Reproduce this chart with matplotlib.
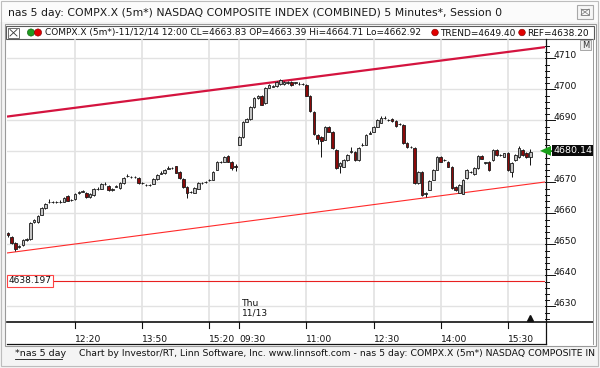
import matplotlib
matplotlib.use("Agg")
import matplotlib.pyplot as plt
from matplotlib.patches import Rectangle, Circle, Polygon
import matplotlib.transforms as mtransforms

plt.rcParams['font.family'] = ['DejaVu Sans']

# ---------------- data (5-minute bars, day 1 starts 10:50, day 2 starts 09:30) ----------------
day1_open = [4653.6, 4652.4, 4650.5, 4649.1, 4649.8, 4651.4, 4651.7, 4657.1, 4657.1, 4659.5,
             4661.7, 4663.5, 4663.6, 4663.7, 4663.6, 4663.7, 4665.6, 4664.2, 4664.6, 4666.5,
             4667.0, 4666.6, 4665.1, 4665.9, 4667.8, 4667.9, 4669.4, 4668.8, 4667.5, 4668.6,
             4668.1, 4669.8, 4671.9, 4671.7, 4671.6, 4671.4, 4669.8, 4669.1, 4669.1, 4669.5,
             4671.1, 4672.8, 4673.0, 4674.4, 4674.5, 4675.1, 4673.4, 4671.1, 4668.5, 4666.8,
             4666.6, 4667.9, 4669.7, 4670.0, 4670.7, 4670.8, 4674.1, 4676.5, 4676.6, 4678.5,
             4676.6, 4675.1]
day1_high = [4654.0, 4652.6, 4650.7, 4649.8, 4651.7, 4652.0, 4657.1, 4658.2, 4659.4, 4662.0,
             4663.4, 4664.6, 4664.0, 4664.0, 4664.2, 4665.3, 4665.9, 4664.7, 4666.4, 4667.3,
             4667.5, 4666.9, 4666.4, 4668.2, 4668.4, 4669.8, 4670.0, 4669.0, 4668.2, 4669.2,
             4670.1, 4671.7, 4672.8, 4672.0, 4672.0, 4671.6, 4670.1, 4669.4, 4669.5, 4671.4,
             4672.7, 4673.6, 4674.3, 4675.2, 4674.9, 4675.4, 4673.6, 4671.3, 4668.7, 4667.3,
             4668.4, 4670.1, 4670.2, 4670.5, 4671.2, 4673.7, 4676.9, 4677.0, 4678.4, 4678.9,
             4676.8, 4675.8]
day1_low = [4652.5, 4650.2, 4647.8, 4648.8, 4649.5, 4651.2, 4651.5, 4656.9, 4656.8, 4659.3,
            4661.5, 4663.3, 4663.4, 4663.3, 4663.4, 4663.5, 4663.9, 4663.9, 4664.4, 4666.3,
            4666.8, 4665.0, 4664.8, 4665.7, 4667.6, 4667.7, 4669.2, 4667.3, 4667.3, 4668.4,
            4667.9, 4669.6, 4671.7, 4671.3, 4671.3, 4669.6, 4669.5, 4668.8, 4668.9, 4669.3,
            4670.9, 4672.6, 4672.8, 4674.2, 4674.2, 4672.9, 4671.2, 4668.3, 4665.0, 4666.5,
            4666.4, 4667.7, 4669.5, 4669.8, 4670.5, 4670.6, 4673.9, 4676.3, 4676.4, 4676.4,
            4673.9, 4673.6]
day1_close = [4652.9, 4650.5, 4648.6, 4649.5, 4651.4, 4651.7, 4656.9, 4657.9, 4659.1, 4661.7,
              4663.1, 4663.7, 4663.7, 4663.6, 4663.7, 4665.0, 4664.1, 4664.3, 4666.1, 4666.9,
              4667.1, 4665.3, 4666.1, 4667.9, 4667.9, 4669.5, 4669.5, 4667.5, 4667.9, 4668.8,
              4669.8, 4671.4, 4672.1, 4671.6, 4671.6, 4669.8, 4669.8, 4669.1, 4669.2, 4671.1,
              4672.4, 4673.0, 4674.0, 4674.6, 4674.5, 4673.1, 4671.4, 4668.5, 4666.6, 4666.9,
              4668.1, 4669.8, 4669.8, 4670.1, 4670.8, 4673.4, 4676.6, 4676.6, 4678.1, 4676.6,
              4674.6, 4674.8]

day2_open = [4682.1, 4684.6, 4689.5, 4690.4, 4694.3, 4697.2, 4697.9, 4695.6, 4700.5, 4700.8,
             4701.1, 4701.7, 4701.6, 4702.0, 4702.4, 4702.1, 4701.7, 4701.6, 4701.4, 4697.9,
             4692.7, 4685.3, 4684.6, 4683.7, 4687.9, 4686.3, 4680.5, 4675.1, 4675.0, 4677.2,
             4679.8, 4679.8, 4677.2, 4681.9, 4682.1, 4685.7, 4686.3, 4687.9, 4689.2, 4690.6,
             4690.2, 4690.5, 4689.8, 4688.8, 4688.5, 4682.7, 4681.3, 4681.1, 4669.8, 4673.4,
             4666.1, 4667.6, 4670.8, 4674.1, 4678.2, 4677.1, 4676.6, 4675.0, 4668.5, 4666.6,
             4666.3, 4671.4, 4673.2, 4672.7, 4674.6, 4678.5, 4676.3, 4676.6, 4677.2, 4680.5,
             4678.8, 4678.3, 4679.5, 4673.4, 4677.2, 4678.2, 4680.5, 4679.5, 4678.2]
day2_high = [4684.9, 4689.8, 4690.9, 4694.6, 4697.5, 4698.3, 4698.1, 4700.8, 4701.7, 4701.3,
             4702.8, 4703.4, 4702.8, 4702.8, 4702.7, 4702.5, 4702.2, 4702.0, 4701.6, 4698.1,
             4692.9, 4685.5, 4684.9, 4688.2, 4688.1, 4686.5, 4680.7, 4676.4, 4677.5, 4679.1,
             4681.3, 4680.0, 4681.4, 4682.7, 4685.6, 4686.5, 4688.2, 4690.4, 4691.3, 4691.5,
             4690.5, 4690.7, 4690.0, 4689.1, 4688.7, 4682.9, 4681.7, 4681.3, 4673.7, 4673.6,
             4667.0, 4670.8, 4674.4, 4678.5, 4678.4, 4677.5, 4676.8, 4675.2, 4668.7, 4669.4,
             4671.1, 4674.3, 4673.8, 4674.9, 4678.8, 4678.7, 4676.7, 4676.8, 4680.8, 4680.7,
             4679.2, 4679.6, 4679.7, 4676.6, 4679.1, 4681.6, 4680.7, 4679.7, 4680.9]
day2_low = [4681.9, 4684.4, 4689.3, 4690.2, 4694.1, 4697.0, 4694.8, 4695.4, 4700.3, 4700.6,
            4700.9, 4701.5, 4701.4, 4701.8, 4701.2, 4701.8, 4701.5, 4701.3, 4697.7, 4692.8,
            4685.4, 4682.5, 4678.1, 4683.5, 4686.1, 4680.9, 4674.4, 4673.1, 4674.8, 4677.0,
            4679.6, 4677.0, 4677.0, 4681.7, 4681.9, 4685.5, 4686.1, 4687.7, 4689.0, 4690.4,
            4689.8, 4689.6, 4688.0, 4688.4, 4682.5, 4681.2, 4681.0, 4669.6, 4669.6, 4665.7,
            4665.1, 4667.4, 4670.6, 4673.9, 4676.4, 4676.8, 4674.8, 4668.0, 4667.2, 4666.4,
            4666.1, 4671.2, 4673.0, 4672.5, 4674.4, 4677.4, 4676.0, 4673.8, 4677.0, 4678.6,
            4678.5, 4678.1, 4673.8, 4671.7, 4677.0, 4678.0, 4678.6, 4678.0, 4675.6]
day2_close = [4684.6, 4689.5, 4690.5, 4694.3, 4697.2, 4697.9, 4695.0, 4700.5, 4701.4, 4700.9,
              4702.4, 4703.0, 4702.4, 4702.4, 4701.4, 4702.1, 4701.8, 4701.6, 4697.9, 4693.0,
              4685.6, 4684.1, 4683.4, 4687.9, 4686.3, 4681.1, 4674.6, 4676.1, 4677.2, 4678.8,
              4680.1, 4677.2, 4681.1, 4682.1, 4685.3, 4685.9, 4687.9, 4690.1, 4690.8, 4690.8,
              4690.1, 4689.8, 4688.2, 4688.8, 4682.7, 4681.4, 4681.3, 4669.8, 4673.4, 4665.9,
              4666.6, 4670.5, 4674.1, 4678.2, 4676.6, 4677.1, 4675.0, 4668.2, 4667.6, 4669.1,
              4670.8, 4674.0, 4673.4, 4674.6, 4678.5, 4677.6, 4676.3, 4674.0, 4680.5, 4678.8,
              4678.8, 4679.3, 4674.0, 4676.3, 4678.8, 4681.1, 4678.8, 4678.2, 4679.8]

time_tick_labels = ['12:20', '13:50', '15:20', '09:30', '11:00', '12:30', '14:00', '15:30']
time_tick_day = [1, 1, 1, 2, 2, 2, 2, 2]
day1_start_min = 10 * 60 + 50
day2_start_min = 9 * 60 + 30
bar_minutes = 5

upper_trend = [4691.2, 4713.6]   # values at left / right edge of the plot
lower_trend = [4647.2, 4670.1]
ref_value = 4638.197
last_price = 4680.14
y_ticks = [4630, 4640, 4650, 4660, 4670, 4680, 4690, 4700, 4710]

header_text = "COMPX.X (5m*)-11/12/14 12:00 CL=4663.83 OP=4663.39 Hi=4664.71 Lo=4662.92"
trend_text = "TREND=4649.40"
ref_text = "REF=4638.20"
title_text = "nas 5 day: COMPX.X (5m*) NASDAQ COMPOSITE INDEX (COMBINED) 5 Minutes*, Session 0"
footer_link = "*nas 5 day"
footer_text = ("Chart by Investor/RT, Linn Software, Inc. www.linnsoft.com - nas 5 day: "
               "COMPX.X (5m*) NASDAQ COMPOSITE IN")

# ---------------- assemble ----------------
opens = day1_open + day2_open
highs = day1_high + day2_high
lows = day1_low + day2_low
closes = day1_close + day2_close
n1 = len(day1_open)
xs = list(range(len(opens)))

W, H = 600, 368
fig = plt.figure(figsize=(W / 100, H / 100), dpi=100)
fig.patch.set_facecolor('white')


def fx(px):
    return px / W


def fy(py):
    return 1 - py / H


# background canvas for chrome
bg = fig.add_axes([0, 0, 1, 1])
bg.set_xlim(0, W)
bg.set_ylim(H, 0)
bg.axis('off')
bg.add_patch(Rectangle((0, 0), W, H, facecolor='#f4f4f4', edgecolor='none'))
bg.add_patch(Rectangle((0, 0), W, 22, facecolor='#fbfbfb', edgecolor='none'))
bg.add_patch(Rectangle((5, 24), 591, 322, facecolor='white', edgecolor='#9a9a9a', lw=0.8))
bg.add_patch(Rectangle((1, 1), 597, 365, facecolor='none', edgecolor='#bdbdbd', lw=0.8))
bg.text(8, 13, title_text, fontsize=7.8, va='center', ha='left', color='#1a1a1a')
# close button
bg.add_patch(Rectangle((577, 5), 16, 14, facecolor='#f6f6f6', edgecolor='#a8a8a8', lw=0.8))
bg.add_patch(Rectangle((581, 9), 8, 6, facecolor='none', edgecolor='#777777', lw=0.6))
bg.plot([581, 589], [9, 15], color='#777777', lw=0.5)
bg.plot([581, 589], [15, 9], color='#777777', lw=0.5)
# header row
bg.add_patch(Rectangle((6, 26), 588, 13, facecolor='white', edgecolor='#5a5a5a', lw=0.8))
bg.add_patch(Rectangle((8, 27.5), 11, 10, facecolor='white', edgecolor='#555555', lw=0.6))
bg.plot([10, 17], [29.5, 36], color='#333333', lw=0.6)
bg.plot([10, 17], [36, 29.5], color='#333333', lw=0.6)
bg.add_patch(Circle((31, 32.5), 3.6, facecolor='#1f9a1f', edgecolor='#0a5a0a', lw=0.4))
bg.add_patch(Circle((38, 32.5), 3.6, facecolor='#e00000', edgecolor='#7a0000', lw=0.4))
bg.text(45, 33, header_text, fontsize=6.5, va='center', ha='left', color='#111111')
bg.add_patch(Circle((435, 32.5), 3.3, facecolor='#e00000', edgecolor='#7a0000', lw=0.4))
bg.text(440, 33, trend_text, fontsize=6.5, va='center', ha='left', color='#111111')
bg.add_patch(Circle((522, 32.5), 3.3, facecolor='#e00000', edgecolor='#7a0000', lw=0.4))
bg.text(527, 33, ref_text, fontsize=6.5, va='center', ha='left', color='#111111')
# footer
bg.text(15, 354, footer_link, fontsize=6.8, va='center', ha='left', color='#111111')
bg.plot([15, 62], [359, 359], color='#111111', lw=0.6)
bg.text(79, 354, footer_text, fontsize=6.65, va='center', ha='left', color='#111111')
# axis frame lines
bg.plot([7, 593], [321.5, 321.5], color='#111111', lw=1.2)
bg.plot([545.5, 545.5], [39, 344], color='#111111', lw=0.9)
bg.plot([7, 545.5], [344, 344], color='#111111', lw=0.9)
bg.plot([593, 593], [39, 344], color='#999999', lw=0.7)
# "M" button
bg.add_patch(Rectangle((580, 40), 11, 10, facecolor='#eeeeee', edgecolor='#999999', lw=0.6))
bg.text(585.5, 45.5, 'M', fontsize=6, ha='center', va='center', color='#333333')

# ---------------- main price axes ----------------
L, R, T, B = 7, 545, 39, 321
ax = fig.add_axes([fx(L), fy(B), fx(R) - fx(L), fy(T) - fy(B)])
ax.set_facecolor('none')
px_per_bar = 3.73
x0 = -(8 - L) / px_per_bar
x1 = x0 + (R - L) / px_per_bar
ax.set_xlim(x0, x1)
y_bottom = 4710 - (B - 58.3) / 3.1
y_top = 4710 + (58.3 - T) / 3.1
ax.set_ylim(y_bottom, y_top)
for s in ax.spines.values():
    s.set_visible(False)
ax.set_xticks([])
ax.set_yticks([])

# tick positions from the time labels
tick_pos = []
for lab, d in zip(time_tick_labels, time_tick_day):
    hh, mm = map(int, lab.split(':'))
    m = hh * 60 + mm
    if d == 1:
        tick_pos.append((m - day1_start_min) / bar_minutes)
    else:
        tick_pos.append(n1 + (m - day2_start_min) / bar_minutes)

grid_c = '#e2e2e2'
for v in y_ticks:
    ax.axhline(v, color=grid_c, lw=1.0, zorder=0)
for p in tick_pos:
    ax.axvline(p, color=grid_c, lw=1.2, zorder=0)

# trend lines and ref line
ax.plot([x0, x1], upper_trend, color='#d4143f', lw=1.6, zorder=2, solid_capstyle='butt')
ax.plot([x0, x1], lower_trend, color='#ff2a2a', lw=0.8, zorder=2)
ax.axhline(ref_value, color='#e82020', lw=0.8, zorder=2)

# candles
up_x, up_b, up_h = [], [], []
dn_x, dn_b, dn_h = [], [], []
for i, (o, h, l, c) in enumerate(zip(opens, highs, lows, closes)):
    if c >= o:
        up_x.append(i); up_b.append(o); up_h.append(max(c - o, 0.12))
    else:
        dn_x.append(i); dn_b.append(c); dn_h.append(max(o - c, 0.12))
ax.vlines(xs, lows, highs, color='#111111', lw=0.7, zorder=3)
ax.bar(up_x, up_h, bottom=up_b, width=0.7, color='#c4c4c4', edgecolor='#1a1a1a', lw=0.6, zorder=4)
ax.bar(dn_x, dn_h, bottom=dn_b, width=0.7, color='#8a0a0a', edgecolor='#1a1a1a', lw=0.6, zorder=4)

# day label
ax.text(n1 + 0.7, y_bottom + 1.2, 'Thu\n11/13', fontsize=6.6, ha='left', va='bottom',
        color='#111111', linespacing=1.05)
# last-bar marker at bottom
ax.plot([len(opens) - 1], [y_bottom + 0.9], marker='^', color='#111111', ms=4.5, clip_on=False)

# ref label box
ax.text(x0 + 0.45, ref_value, f"{ref_value:.3f}", fontsize=6.5, ha='left', va='center',
        color='#111111', zorder=6,
        bbox=dict(boxstyle='square,pad=0.15', facecolor='white', edgecolor='#ff4444', lw=0.8))

# ---------------- right value axis (drawn in axes-fraction x, data y) ----------------
trans = mtransforms.blended_transform_factory(ax.transAxes, ax.transData)
ax_w_px = R - L
def ax_x(px):
    return (px - L) / ax_w_px

for v in range(4626, 4716, 2):
    major = (v % 10 == 0)
    ax.plot([ax_x(R), ax_x(R + (10 if major else 4))], [v, v], transform=trans,
            color='#111111', lw=0.7, clip_on=False)
offset = mtransforms.ScaledTranslation(0, 3 / 100, fig.dpi_scale_trans)
for v in y_ticks:
    if abs(v - last_price) < 3:
        continue  # covered by the last-price tag
    ax.text(ax_x(R + 8), v, str(v), transform=trans + offset, fontsize=6.6, ha='left',
            va='center', color='#111111', clip_on=False)

# last-price marker
ax.add_patch(Polygon([[ax_x(540), last_price], [ax_x(551), last_price + 1.6],
                      [ax_x(551), last_price - 1.6]], closed=True, transform=trans,
                     facecolor='#18a018', edgecolor='none', clip_on=False, zorder=7))
ax.plot([ax_x(545), ax_x(553)], [last_price, last_price], transform=trans, color='#18a018',
        lw=1.2, clip_on=False, zorder=7)
ax.text(ax_x(553), last_price, f"{last_price:.2f}", transform=trans, fontsize=6.8,
        ha='left', va='center', color='white', clip_on=False, zorder=8,
        bbox=dict(boxstyle='square,pad=0.12', facecolor='#0a0a0a', edgecolor='none'))

# ---------------- bottom time axis ----------------
trans_x = mtransforms.blended_transform_factory(ax.transData, ax.transAxes)
ax_h_px = B - T
def ax_y(py):
    return (B - py) / ax_h_px

for p, lab in zip(tick_pos, time_tick_labels):
    ax.plot([p, p], [ax_y(322), ax_y(328)], transform=trans_x, color='#111111', lw=0.8,
            clip_on=False)
    ax.text(p, ax_y(339), lab, transform=trans_x, fontsize=6.6, ha='left', va='center',
            color='#111111', clip_on=False)

fig.savefig('out.png', dpi=100, facecolor=fig.get_facecolor())
